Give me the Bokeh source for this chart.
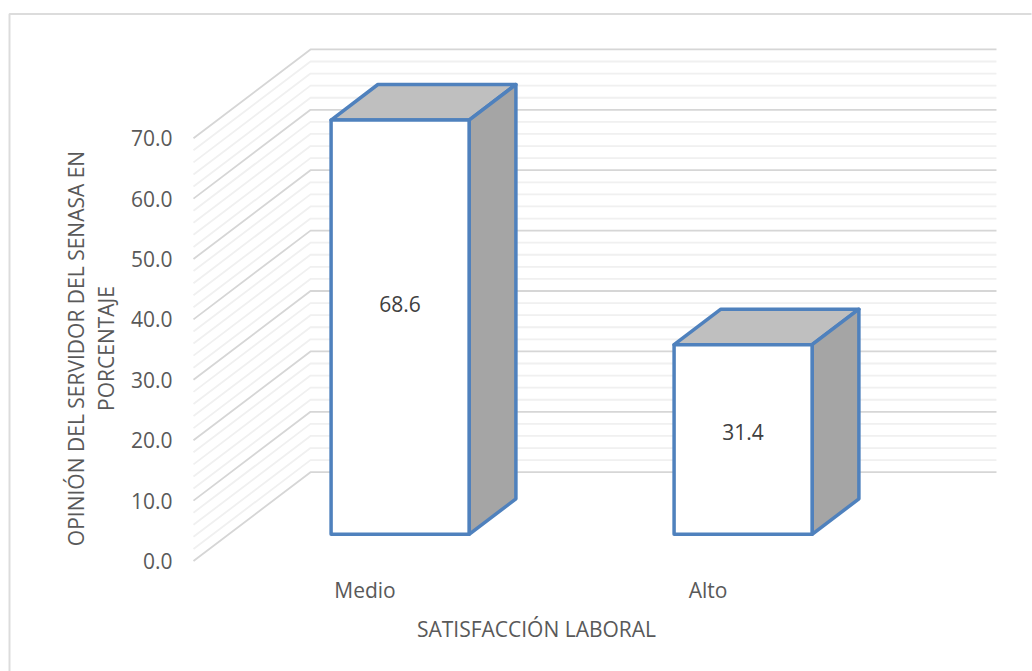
from bokeh.embed import file_html
from bokeh.models import FixedTicker, Label, Range1d
from bokeh.plotting import figure
from bokeh.resources import INLINE

# Survey results
categories = ["Medio", "Alto"]
values = [68.6, 31.4]
y_ticks = [0, 10, 20, 30, 40, 50, 60, 70]
minor_step = 2
x_title = "SATISFACCIÓN LABORAL"
y_title_lines = ["OPINIÓN DEL SERVIDOR DEL SENASA EN", "PORCENTAJE"]

FONT = "Open Sans"
TEXT = "#595959"
EDGE = "#4f81bd"
SIZE = "21px"

# The frame fills the page; the origin of the front plane sits at (ORIGIN_X, ORIGIN_Y)
WIDTH, HEIGHT = 1032, 671
ORIGIN_X, ORIGIN_Y = 193, 560.5
PX_PER_CAT, PX_PER_UNIT = 343, 6.04

# Oblique projection: depth d in [0, 1] shifts a point right and up
DEPTH_X = 0.3411
DEPTH_Y = 14.7
BAR_HALF = 0.2012
BAR_NEAR = 0.30
BAR_FAR = 0.70
N_CATS = len(categories)


def project(x, y, d):
    return x + DEPTH_X * d, y + DEPTH_Y * d


def page_x(px):
    return (px - ORIGIN_X) / PX_PER_CAT


def page_y(px):
    return (ORIGIN_Y - px) / PX_PER_UNIT


p = figure(
    width=WIDTH, height=HEIGHT, output_backend="svg", toolbar_location=None,
    x_range=Range1d(page_x(0), page_x(WIDTH)), y_range=Range1d(page_y(HEIGHT), page_y(0)),
    min_border_left=0, min_border_right=0, min_border_top=0, min_border_bottom=0,
    outline_line_color=None, background_fill_color="white", border_fill_color="white",
)
p.grid.visible = False

# Chart-area border along the top and left edges
p.line([page_x(9), page_x(9), page_x(1031)], [page_y(HEIGHT), page_y(13.5), page_y(13.5)],
       line_color="#dcdcdc", line_width=2)

# Wall and side-wall gridlines
minor_levels = [v for v in range(0, max(y_ticks) + 1, minor_step) if v not in y_ticks]
for levels, color in ((minor_levels, "#f0f0f0"), (y_ticks, "#d6d6d6")):
    xs, ys = [], []
    for v in levels:
        x0, y0 = project(0, v, 0)
        x1, y1 = project(0, v, 1)
        x2, y2 = project(N_CATS, v, 1)
        xs.append([x0, x1, x2])
        ys.append([y0, y1, y2])
    p.multi_line(xs, ys, line_color=color, line_width=1.8)

# Oblique bars: top, side and front faces
for i, v in enumerate(values):
    c = i + 0.5
    left, right = c - BAR_HALF, c + BAR_HALF
    near = [project(left, 0, BAR_NEAR), project(right, 0, BAR_NEAR),
            project(right, v, BAR_NEAR), project(left, v, BAR_NEAR)]
    far = [project(left, 0, BAR_FAR), project(right, 0, BAR_FAR),
           project(right, v, BAR_FAR), project(left, v, BAR_FAR)]
    faces = [
        ([near[3], near[2], far[2], far[3]], "#bfbfbf"),
        ([near[1], far[1], far[2], near[2]], "#a5a5a5"),
        (near, "#ffffff"),
    ]
    for pts, fill in faces:
        p.patch([q[0] for q in pts], [q[1] for q in pts], fill_color=fill,
                line_color=EDGE, line_width=3.5, line_join="round")
    lx, ly = project(c, 0.5726 * v - 1.08, BAR_NEAR)
    p.add_layout(Label(x=lx, y=ly, text=f"{v:.1f}", text_align="center",
                       text_baseline="middle", text_font=FONT,
                       text_font_size=SIZE, text_color="#404040"))

# Axes sit on the front plane of the chart
p.yaxis.ticker = FixedTicker(ticks=y_ticks)
p.yaxis.major_label_overrides = {v: f"{v:.1f}" for v in y_ticks}
p.xaxis.ticker = FixedTicker(ticks=[i + 0.5 for i in range(N_CATS)])
p.xaxis.major_label_overrides = {i + 0.5: c for i, c in enumerate(categories)}
p.yaxis.fixed_location = 0
p.xaxis.fixed_location = 0
p.yaxis.major_label_standoff = 21
p.xaxis.major_label_standoff = 15
for axis in (p.xaxis, p.yaxis):
    axis.axis_line_color = None
    axis.major_tick_line_color = None
    axis.minor_tick_line_color = None
    axis.major_tick_out = 0
    axis.minor_tick_out = 0
    axis.major_label_text_font = FONT
    axis.major_label_text_font_size = SIZE
    axis.major_label_text_color = TEXT

# Axis titles
p.add_layout(Label(x=N_CATS / 2, y=page_y(628), text=x_title, text_align="center",
                   text_baseline="middle", text_font=FONT, text_font_size=SIZE,
                   text_color=TEXT))
for line, sx in zip(y_title_lines, (75.5, 105.5)):
    p.add_layout(Label(x=page_x(sx), y=page_y(348), text=line, angle=90, angle_units="deg",
                       text_align="center", text_baseline="middle", text_font=FONT,
                       text_font_size=SIZE, text_color=TEXT))

open("out.html", "w").write(file_html(p, INLINE))
